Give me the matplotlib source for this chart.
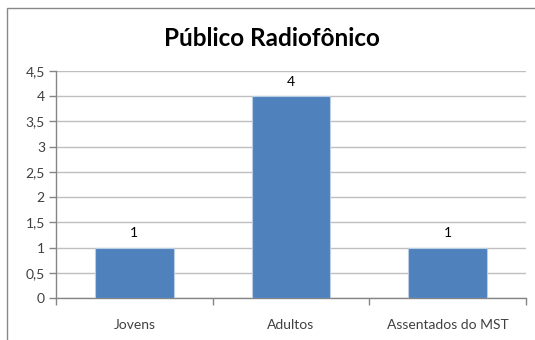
import matplotlib.pyplot as plt
from matplotlib.patches import Rectangle

categorias = ['Jovens', 'Adultos', 'Assentados do MST']
valores = [1, 4, 1]
yticks = [0, 0.5, 1, 1.5, 2, 2.5, 3, 3.5, 4, 4.5]

plt.rcParams['font.family'] = ['Lato', 'DejaVu Sans']

W, H = 535, 340
fig = plt.figure(figsize=(W / 100, H / 100), dpi=100)

# moldura do gráfico (cinza, aberta à direita e embaixo)
fig.patches.append(Rectangle((7 / W, -0.05), 1.2, (H - 8) / H + 0.05,
                             transform=fig.transFigure, fill=False,
                             edgecolor='#888888', linewidth=1.0))

ax = fig.add_axes([56 / W, 1 - 298 / H, (526 - 56) / W, (298 - 71) / H])

x = list(range(len(categorias)))
ax.bar(x, valores, width=0.5, color='#4F81BD', edgecolor='#B9CDE5',
       linewidth=0.8, zorder=3)
for xi, v in zip(x, valores):
    ax.text(xi, v + 0.16, str(v), ha='center', va='bottom',
            fontsize=10, color='#000000')

ax.set_xlim(-0.5, len(categorias) - 0.5)
ax.set_ylim(0, 4.5)
ax.set_yticks(yticks)
ax.set_yticklabels([('%g' % t).replace('.', ',') for t in yticks])
ax.yaxis.grid(True, color='#BFBFBF', linewidth=1.0, zorder=0)

ax.set_xticks([i - 0.5 for i in range(len(categorias) + 1)])
ax.set_xticklabels([])
ax.set_xticks(x, minor=True)
ax.set_xticklabels(categorias, minor=True)
ax.tick_params(axis='x', which='major', length=5, color='#868686', width=1)
ax.tick_params(axis='x', which='minor', length=0, pad=15, labelsize=10,
               labelcolor='#404040')
ax.tick_params(axis='y', length=5, color='#868686', width=1, pad=3,
               labelsize=10, labelcolor='#404040')

for s in ['top', 'right']:
    ax.spines[s].set_visible(False)
for s in ['left', 'bottom']:
    ax.spines[s].set_color('#868686')
    ax.spines[s].set_linewidth(1)

fig.text(272 / W, 1 - 39 / H, 'Público Radiofônico', ha='center',
         va='center', fontsize=17.5, fontweight='bold', color='#000000')

fig.savefig('out.png', dpi=100)
